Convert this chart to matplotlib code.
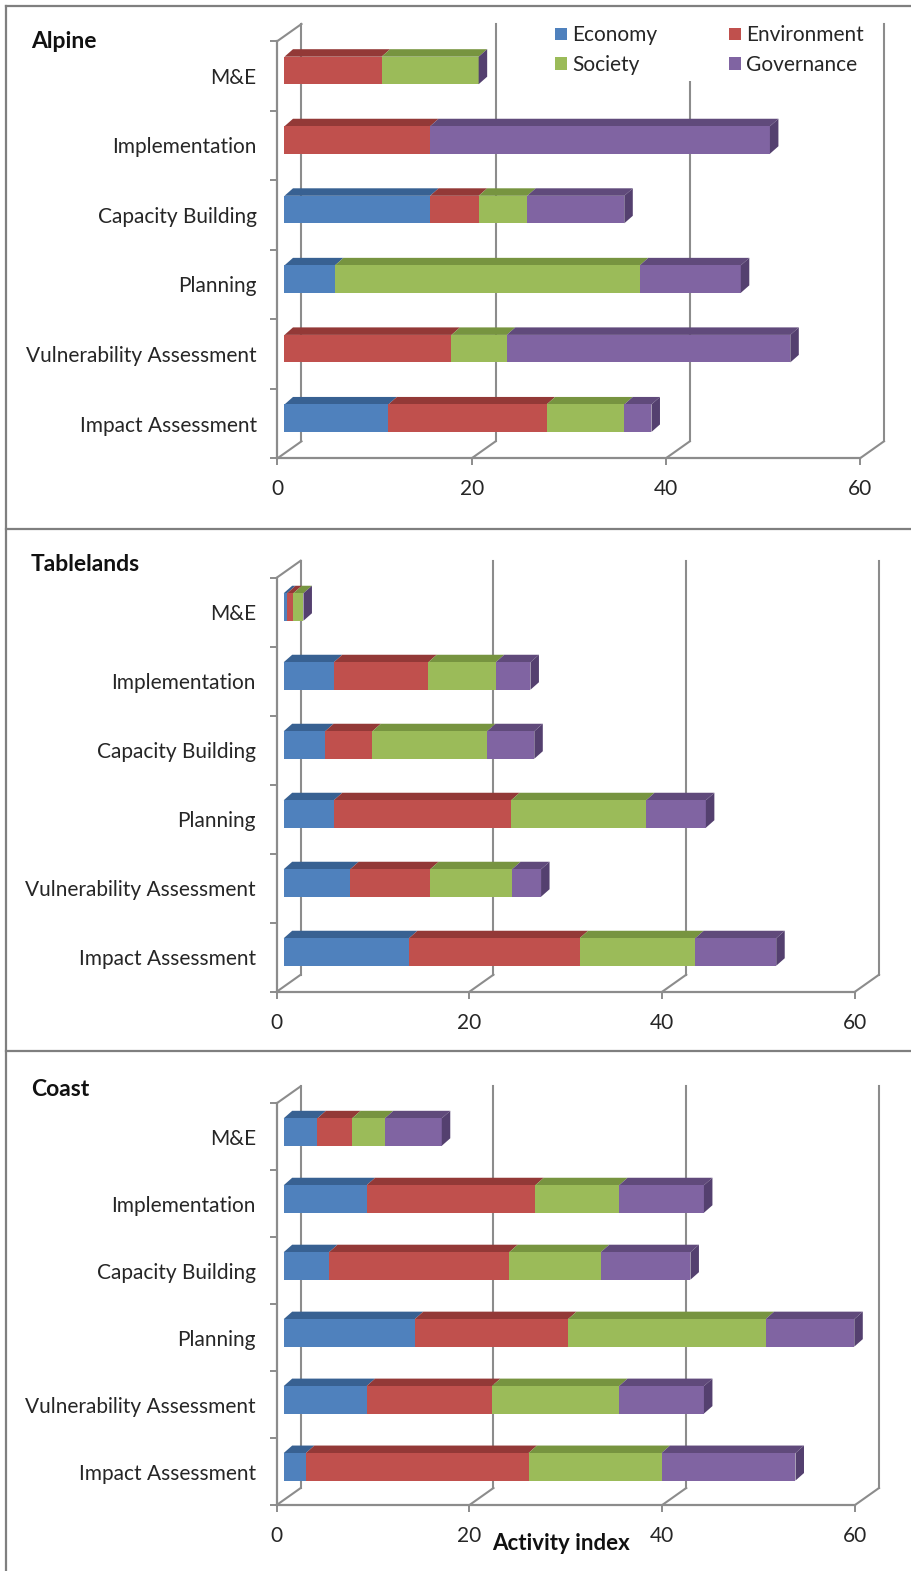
import matplotlib
matplotlib.use("Agg")
import matplotlib.pyplot as plt
from matplotlib.lines import Line2D
from matplotlib.patches import Patch, Polygon

W, H = 912, 1571

categories = ["Impact Assessment", "Vulnerability Assessment", "Planning",
              "Capacity Building", "Implementation", "M&E"]
series_names = ["Economy", "Environment", "Society", "Governance"]

alpine_economy = [10.7, 0, 5.2, 15, 0, 0]
alpine_environment = [16.3, 17.2, 0, 5, 15, 10]
alpine_society = [8, 5.7, 31.4, 5, 0, 10]
alpine_governance = [2.8, 29.2, 10.4, 10, 35, 0]

tablelands_economy = [13.0, 6.9, 5.2, 4.3, 5.2, 0.35]
tablelands_environment = [17.7, 8.3, 18.4, 4.9, 9.8, 0.65]
tablelands_society = [12, 8.5, 14, 11.9, 7, 1.05]
tablelands_governance = [8.4, 3, 6.2, 4.9, 3.6, 0]

coast_economy = [2.3, 8.6, 13.6, 4.7, 8.6, 3.5]
coast_environment = [23.1, 13, 15.9, 18.7, 17.5, 3.6]
coast_society = [13.8, 13.2, 20.5, 9.5, 8.7, 3.4]
coast_governance = [13.9, 8.8, 9.2, 9.3, 8.8, 5.9]

# ── theme ──────────────────────────────────────────────────────────────────
FACE = ["#4F81BD", "#C0504D", "#9BBB59", "#8064A2"]
TOP = ["#386192", "#933937", "#779440", "#604A7B"]
SIDE = "#54406F"
GREY = "#8C8C8C"
FRAME = "#7F7F7F"
TEXT = "#262626"

plt.rcParams["font.family"] = ["Lato", "DejaVu Sans"]

fig = plt.figure(figsize=(W / 100, H / 100), dpi=100, facecolor="white")


def px_line(x0, y0, x1, y1):
    fig.add_artist(Line2D([x0 / W, x1 / W], [1 - y0 / H, 1 - y1 / H],
                          color=FRAME, lw=1.6))


def draw_panel(title, title_y, values, x0, x1, y_floor, y_top, face_y):
    ax = fig.add_axes([x0 / W, 1 - y_floor / H, (x1 - x0) / W, (y_floor - y_top) / H])
    ax.set_xlim(0, 60)
    ax.set_ylim(0, 6)
    ax.patch.set_alpha(0)
    ux = (x1 - x0) / 60      # px per x unit
    uy = (y_floor - y_top) / 6
    wall_x, wall_y = 24 / ux, 17 / uy
    start = 7 / ux
    bar_h = 27.5 / uy
    dep_x, dep_y = 8.5 / ux, 7.5 / uy

    # walls behind the bars
    for t in [0, 20, 40, 60]:
        ax.plot([t, t + wall_x], [0, wall_y], color=GREY, lw=1.5, clip_on=False, zorder=1)
        ax.plot([t + wall_x] * 2, [wall_y, 6 + wall_y], color=GREY, lw=1.5, clip_on=False, zorder=1)
    ax.plot([0, wall_x], [6, 6 + wall_y], color=GREY, lw=1.5, clip_on=False, zorder=1)

    for i in range(len(categories)):
        y = i + (y_floor - face_y) / uy
        left = start
        for s in range(4):
            w = values[s][i]
            ax.add_patch(Polygon([(left, y + bar_h / 2), (left + dep_x, y + bar_h / 2 + dep_y),
                                  (left + w + dep_x, y + bar_h / 2 + dep_y), (left + w, y + bar_h / 2)],
                                 facecolor=TOP[s], edgecolor="none", clip_on=False, zorder=3))
            ax.barh(y, w, left=left, height=bar_h, color=FACE[s], clip_on=False, zorder=4)
            left += w
        ax.add_patch(Polygon([(left, y - bar_h / 2), (left + dep_x, y - bar_h / 2 + dep_y),
                              (left + dep_x, y + bar_h / 2 + dep_y), (left, y + bar_h / 2)],
                             facecolor=SIDE, edgecolor="none", clip_on=False, zorder=4))

    for side in ["top", "right"]:
        ax.spines[side].set_visible(False)
    for side in ["left", "bottom"]:
        ax.spines[side].set_color(GREY)
        ax.spines[side].set_linewidth(1.6)
    ax.set_xticks([0, 20, 40, 60])
    ax.tick_params(axis="x", length=5, width=1.4, color=GREY, labelsize=15, labelcolor=TEXT, pad=10)
    ax.set_yticks(range(7))
    ax.set_yticklabels([])
    ax.tick_params(axis="y", which="major", length=5, width=1.4, color=GREY)
    ax.set_yticks([i + 0.5 for i in range(6)], minor=True)
    ax.set_yticklabels(categories, minor=True)
    ax.tick_params(axis="y", which="minor", length=0, labelsize=15, labelcolor=TEXT, pad=15)
    fig.text(31 / W, 1 - title_y / H, title, fontsize=16.5, fontweight="bold",
             color="#111111", va="center", ha="left")
    return ax


alpine = [alpine_economy, alpine_environment, alpine_society, alpine_governance]
tablelands = [tablelands_economy, tablelands_environment, tablelands_society, tablelands_governance]
coast = [coast_economy, coast_environment, coast_society, coast_governance]

draw_panel("Alpine", 41, alpine, 277.5, 860, 458.3, 41, 418.2)
draw_panel("Tablelands", 565, tablelands, 276.7, 855, 991.7, 577.7, 952)
draw_panel("Coast", 1090, coast, 276.7, 855, 1505, 1103.3, 1466.8)

handles = [Patch(facecolor=FACE[s], label=series_names[s]) for s in [0, 2, 1, 3]]
fig.legend(handles=handles, ncols=2, loc="upper left",
           bbox_to_anchor=(549 / W, 1 - 19 / H), frameon=True, facecolor="white",
           edgecolor="none", framealpha=1, fancybox=False, fontsize=15, labelcolor=TEXT,
           handlelength=0.56, handleheight=0.56, handletextpad=0.25, columnspacing=3.45,
           labelspacing=0.45, borderaxespad=0, borderpad=0.3)

fig.text(561 / W, 1 - 1544 / H, "Activity index", fontsize=16, fontweight="bold",
         color="#111111", ha="center", va="center", zorder=10)

# outer frame of the three pasted charts
px_line(6, 6, 912, 6)
px_line(6, 6, 6, 1571)
px_line(6, 529, 912, 529)
px_line(6, 1051, 912, 1051)

fig.savefig("out.png", dpi=100, facecolor="white")
